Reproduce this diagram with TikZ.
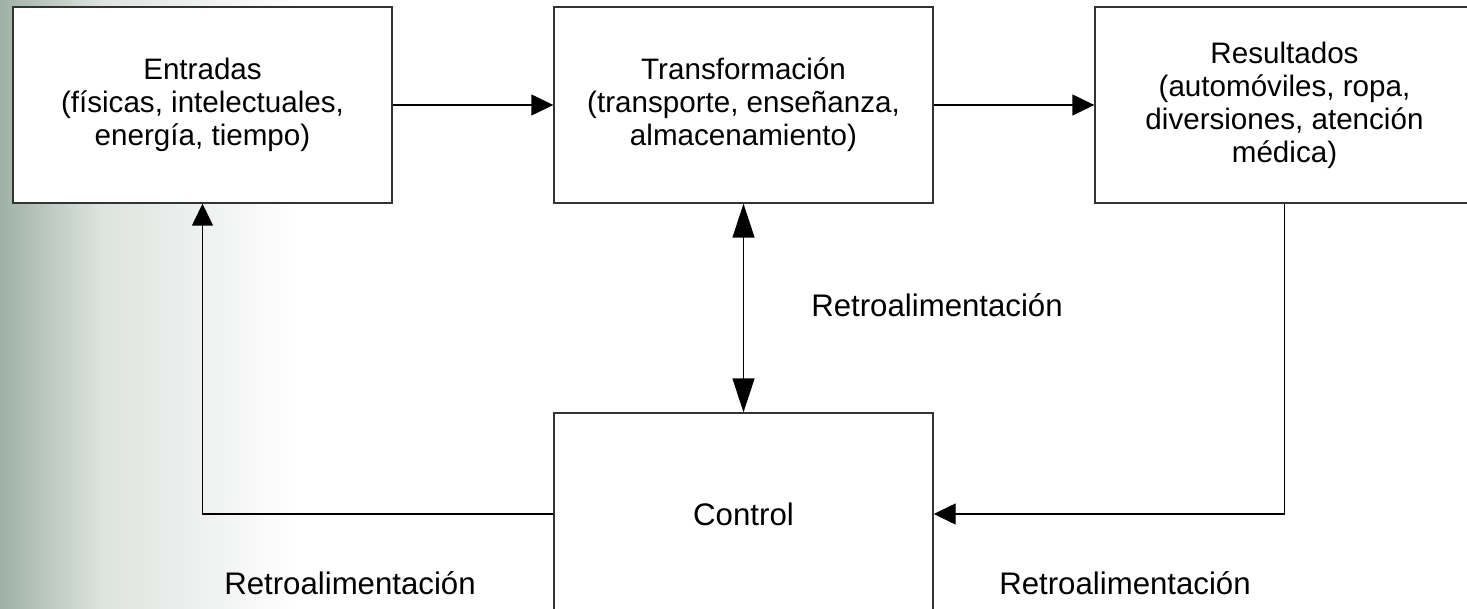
\documentclass[tikz,border=0pt]{standalone}
\usepackage{fontspec}
\setmainfont{Liberation Sans}
\usetikzlibrary{arrows.meta}
\definecolor{bgleft}{RGB}{158,177,166}
\definecolor{bgmid}{RGB}{221,227,223}

\tikzset{
	bloque/.style={draw=black!80, line width=0.7pt, fill=white, minimum width=189.5pt, minimum height=98pt, inner sep=0pt, align=center, font=\fontsize{14.8}{16.5}\selectfont},
	flecha/.style={line width=0.7pt, -{Triangle[length=11pt,width=10.5pt]}},
	etiqueta/.style={font=\fontsize{15.6}{17}\selectfont}
}

\begin{document}
\begin{tikzpicture}[x=0.5pt,y=-0.5pt]
		\clip (0,0) rectangle (1467,609);
		\fill[white] (0,0) rectangle (1467,609);
		\shade[left color=bgleft, right color=bgmid] (0,0) rectangle (100,609);
		\shade[left color=bgmid, right color=white] (100,0) rectangle (300,609);
		\node[bloque] (ent) at (202.5,105) {Entradas\\(físicas, intelectuales,\\energía, tiempo)};
		\node[bloque] (tra) at (743.5,105) {Transformación\\(transporte, enseñanza,\\almacenamiento)};
		\node[bloque] (res) at (1284.5,105) {Resultados\\(automóviles, ropa,\\diversiones, atención\\médica)};
		\node[bloque, minimum height=101pt, font=\fontsize{15.6}{17}\selectfont] (ctl) at (743.5,514) {Control};
		\draw[flecha] (ent) -- (tra);
		\draw[flecha] (tra) -- (res);
		\draw[line width=0.7pt, {Triangle[length=17pt,width=11pt]}-{Triangle[length=17pt,width=11pt]}] (tra.south) -- (ctl.north);
		\draw[flecha] (res.south) |- (ctl.east);
		\draw[flecha] (ctl.west) -| (ent.south);
		\node[etiqueta] (r1) at (937,305) {Retroalimentación};
		\node[etiqueta] (r2) at (350,583) {Retroalimentación};
		\node[etiqueta] (r3) at (1125,583) {Retroalimentación};
	\end{tikzpicture}
\end{document}
